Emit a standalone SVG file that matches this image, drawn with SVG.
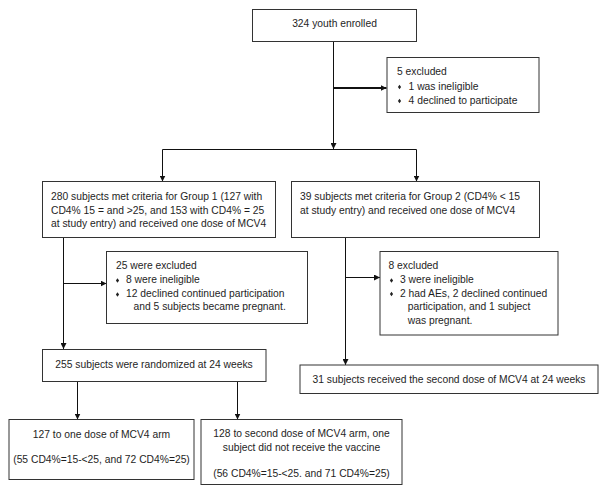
<svg xmlns="http://www.w3.org/2000/svg" xmlns:xlink="http://www.w3.org/1999/xlink" width="603" height="494" viewBox="0 0 603 494">
<defs>
<style>
.box{fill:#fff;stroke:#333;stroke-width:1}
.t{font-family:"Liberation Sans",Arial,sans-serif;font-size:10.3px;fill:#1e1e1e}
.c{text-anchor:middle}
.ln{fill:none;stroke:#111;stroke-width:1}
.thick{stroke-width:2}
</style>
<marker id="ah" viewBox="0 0 6 6" refX="6" refY="3" markerWidth="6" markerHeight="6" markerUnits="userSpaceOnUse" orient="auto">
<path d="M0,0 L6,3 L0,6 z" fill="#111"/>
</marker>
<polygon id="bul" points="0,-2.2 1.6,0 0,2.2 -1.6,0" fill="#222"/>
</defs>
<rect width="603" height="494" fill="#fff"/>

<g id="connectors">
<line class="ln" x1="333.5" y1="41.5" x2="333.5" y2="149" marker-end="url(#ah)"/>
<line class="ln thick" x1="333.5" y1="88" x2="386.5" y2="88" marker-end="url(#ah)"/>
<line class="ln" x1="162.5" y1="149.5" x2="416.5" y2="149.5"/>
<line class="ln" x1="162.5" y1="149.5" x2="162.5" y2="181.5" marker-end="url(#ah)"/>
<line class="ln" x1="416.5" y1="149.5" x2="416.5" y2="181.5" marker-end="url(#ah)"/>
<line class="ln" x1="63.5" y1="237.5" x2="63.5" y2="349" marker-end="url(#ah)"/>
<line class="ln" x1="63.5" y1="283.5" x2="106.5" y2="283.5" marker-end="url(#ah)"/>
<line class="ln" x1="345.5" y1="237.5" x2="345.5" y2="365" marker-end="url(#ah)"/>
<line class="ln" x1="345.5" y1="277.5" x2="380" y2="277.5" marker-end="url(#ah)"/>
<line class="ln" x1="77.5" y1="381.5" x2="77.5" y2="419.5" marker-end="url(#ah)"/>
<line class="ln" x1="237.5" y1="381.5" x2="237.5" y2="419.5" marker-end="url(#ah)"/>
</g>

<g id="enrolled">
<rect class="box" x="252.5" y="9.5" width="164" height="32"/>
<text class="t c" x="334.5" y="27.4">324 youth enrolled</text>
</g>

<g id="excluded5">
<rect class="box" x="387" y="57.5" width="152" height="55"/>
<text class="t" x="397" y="75.4">5 excluded</text>
<use xlink:href="#bul" x="399.5" y="87"/>
<text class="t" x="408.6" y="89.7">1 was ineligible</text>
<use xlink:href="#bul" x="399.5" y="101"/>
<text class="t" x="408.6" y="103.7">4 declined to participate</text>
</g>

<g id="group1">
<rect class="box" x="42.5" y="181.5" width="233" height="56"/>
<text class="t" x="51" y="200.4">280 subjects met criteria for Group 1 (127 with</text>
<text class="t" x="51" y="213.7">CD4% 15 = and &gt;25, and 153 with CD4% = 25</text>
<text class="t" x="51" y="227">at study entry) and received one dose of MCV4</text>
</g>

<g id="group2">
<rect class="box" x="291.5" y="181.5" width="248" height="56"/>
<text class="t" x="300" y="200.4">39 subjects met criteria for Group 2 (CD4% &lt; 15</text>
<text class="t" x="300" y="213.7">at study entry) and received one dose of MCV4</text>
</g>

<g id="excluded25">
<rect class="box" x="106.5" y="251.5" width="201" height="72"/>
<text class="t" x="116" y="269">25 were excluded</text>
<use xlink:href="#bul" x="117.5" y="280.5"/>
<text class="t" x="126" y="283">8 were ineligible</text>
<use xlink:href="#bul" x="117.5" y="294.5"/>
<text class="t" x="126" y="297">12 declined continued participation</text>
<text class="t" x="133.5" y="310.4">and 5 subjects became pregnant.</text>
</g>

<g id="excluded8">
<rect class="box" x="380" y="251.5" width="178" height="83.5"/>
<text class="t" x="388.5" y="269">8 excluded</text>
<use xlink:href="#bul" x="391.5" y="280.5"/>
<text class="t" x="400" y="283">3 were ineligible</text>
<use xlink:href="#bul" x="391.5" y="294"/>
<text class="t" x="400" y="296.6">2 had AEs, 2 declined continued</text>
<text class="t" x="407.8" y="310.4">participation, and 1 subject</text>
<text class="t" x="407.8" y="324.4">was pregnant.</text>
</g>

<g id="randomized">
<rect class="box" x="42.5" y="349.5" width="223.5" height="32"/>
<text class="t c" x="154" y="367.7">255 subjects were randomized at 24 weeks</text>
</g>

<g id="seconddose">
<rect class="box" x="300" y="365" width="298" height="28.5"/>
<text class="t c" x="449" y="383.3">31 subjects received the second dose of MCV4 at 24 weeks</text>
</g>

<g id="arm1">
<rect class="box" x="9" y="419.5" width="185" height="60"/>
<text class="t c" x="101.5" y="437.5">127 to one dose of MCV4 arm</text>
<text class="t c" x="101.5" y="463.3">(55 CD4%=15-&lt;25, and 72 CD4%=25)</text>
</g>

<g id="arm2">
<rect class="box" x="201" y="419.5" width="201" height="65"/>
<text class="t c" x="301.5" y="437">128 to second dose of MCV4 arm, one</text>
<text class="t c" x="301.5" y="451.2">subject did not receive the vaccine</text>
<text class="t c" x="301.5" y="477.2">(56 CD4%=15-&lt;25. and 71 CD4%=25)</text>
</g>
</svg>
